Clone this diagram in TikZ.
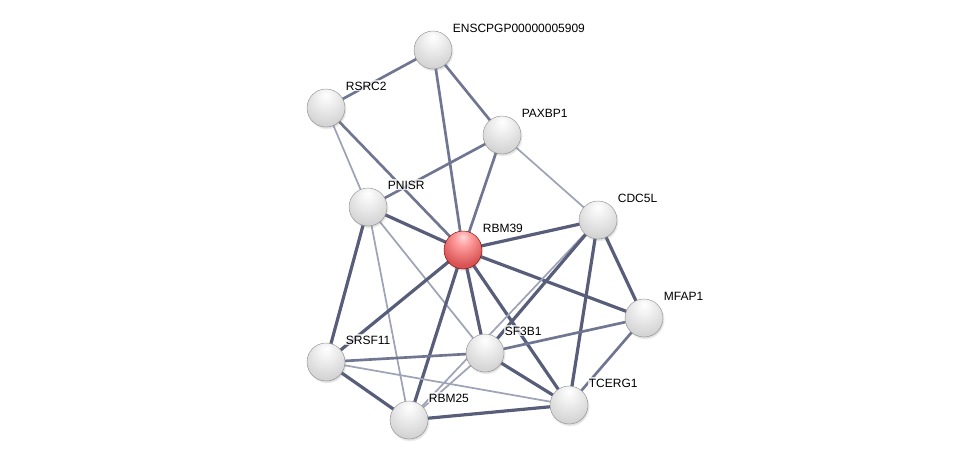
\documentclass[tikz,border=0pt]{standalone}
\usepackage{fontspec}
\setmainfont{Liberation Sans}
\usepackage{tikz}
\usetikzlibrary{positioning,shadows,backgrounds}

\definecolor{edgedark}{RGB}{88,94,122}
\definecolor{edgemid}{RGB}{112,118,145}
\definecolor{edgelight}{RGB}{158,163,184}

\pgfdeclareradialshading{greysphere}{\pgfpoint{0bp}{18bp}}{%
	color(0bp)=(white); color(10bp)=(white!95!black); color(30bp)=(white!84!black);
	color(50bp)=(white!74!black); color(68bp)=(white!50!black)}
\pgfdeclareradialshading{redsphere}{\pgfpoint{0bp}{18bp}}{%
	color(0bp)=(red!15!white); color(10bp)=(red!38!white); color(30bp)=(red!62!white!85!black);
	color(50bp)=(red!60!white!75!black); color(68bp)=(red!65!black)}

\begin{document}
\begin{tikzpicture}[
		x=0.75pt, y=-0.75pt,
		node distance=2.5pt,
		protein/.style={
			circle,
			minimum size=28.5pt,
			inner sep=0pt,
			shading=greysphere,
			draw=white!55!black, line width=0.3pt,
			circular drop shadow={shadow xshift=0.6pt,shadow yshift=-1.2pt,opacity=0.3,shadow scale=1.05}
		},
		query/.style={protein,shading=redsphere,draw=red!45!black},
		lbl/.style={
			inner sep=1pt,
			fill=white, fill opacity=0.75, text opacity=1,
			font=\fontsize{9}{11}\selectfont
		},
		strong/.style={edgedark,line width=2.4pt},
		medium/.style={edgemid,line width=2pt},
		weak/.style={edgelight,line width=1.3pt}
		]
		
		\useasboundingbox (0,0) rectangle (976,465);
		
		% proteins
		\node[protein] (ens) at (433,50) {};
		\node[protein] (rsrc) at (326,108) {};
		\node[protein] (pax) at (502,135) {};
		\node[protein] (pnisr) at (368,207) {};
		\node[query] (rbm39) at (463,250) {};
		\node[protein] (cdc) at (598,220) {};
		\node[protein] (mfap) at (644,318) {};
		\node[protein] (sf3) at (485,353) {};
		\node[protein] (srsf) at (326,362) {};
		\node[protein] (rbm25) at (409,420) {};
		\node[protein] (tcerg) at (569,405) {};
		
		% labels
		\node[lbl,above right=2pt and 3.5pt of ens] (ensL) {ENSCPGP00000005909};
		\node[lbl,above right=2pt and 3.5pt of rsrc] (rsrcL) {RSRC2};
		\node[lbl,above right=2pt and 3.5pt of pax] (paxL) {PAXBP1};
		\node[lbl,above right=2pt and 3.5pt of pnisr] (pnisrL) {PNISR};
		\node[lbl,above right=2pt and 3.5pt of rbm39] (rbm39L) {RBM39};
		\node[lbl,above right=2pt and 3.5pt of cdc] (cdcL) {CDC5L};
		\node[lbl,above right=2pt and 3.5pt of mfap] (mfapL) {MFAP1};
		\node[lbl,above right=2pt and 3.5pt of sf3] (sf3L) {SF3B1};
		\node[lbl,above right=2pt and 3.5pt of srsf] (srsfL) {SRSF11};
		\node[lbl,above right=2pt and 3.5pt of rbm25] (rbm25L) {RBM25};
		\node[lbl,above right=2pt and 3.5pt of tcerg] (tcergL) {TCERG1};
		
		% edges
		\begin{scope}[on background layer]
		\draw[medium] (ens.center) -- (rsrc.center);
		\draw[medium] (ens.center) -- (rbm39.center);
		\draw[medium] (ens.center) -- (pax.center);
		\draw[weak] (rsrc.center) -- (pnisr.center);
		\draw[medium] (rsrc.center) -- (rbm39.center);
		\draw[medium] (pax.center) -- (pnisr.center);
		\draw[medium] (pax.center) -- (rbm39.center);
		\draw[weak] (pax.center) -- (cdc.center);
		\draw[strong] (pnisr.center) -- (rbm39.center);
		\draw[strong] (pnisr.center) -- (srsf.center);
		\draw[weak] (pnisr.center) -- (rbm25.center);
		\draw[weak] (pnisr.center) -- (sf3.center);
		\draw[strong] (rbm39.center) -- (cdc.center);
		\draw[strong] (rbm39.center) -- (mfap.center);
		\draw[strong] (rbm39.center) -- (srsf.center);
		\draw[strong] (rbm39.center) -- (rbm25.center);
		\draw[strong] (rbm39.center) -- (sf3.center);
		\draw[strong] (rbm39.center) -- (tcerg.center);
		\draw[weak] (cdc.center) -- (rbm25.center);
		\draw[strong] (cdc.center) -- (sf3.center);
		\draw[strong] (cdc.center) -- (mfap.center);
		\draw[strong] (cdc.center) -- (tcerg.center);
		\draw[medium] (mfap.center) -- (sf3.center);
		\draw[medium] (mfap.center) -- (tcerg.center);
		\draw[medium] (srsf.center) -- (sf3.center);
		\draw[weak] (srsf.center) -- (tcerg.center);
		\draw[strong] (srsf.center) -- (rbm25.center);
		\draw[strong] (sf3.center) -- (tcerg.center);
		\draw[weak] (sf3.center) -- (rbm25.center);
		\draw[strong] (rbm25.center) -- (tcerg.center);
		\end{scope}
		
	\end{tikzpicture}
\end{document}
